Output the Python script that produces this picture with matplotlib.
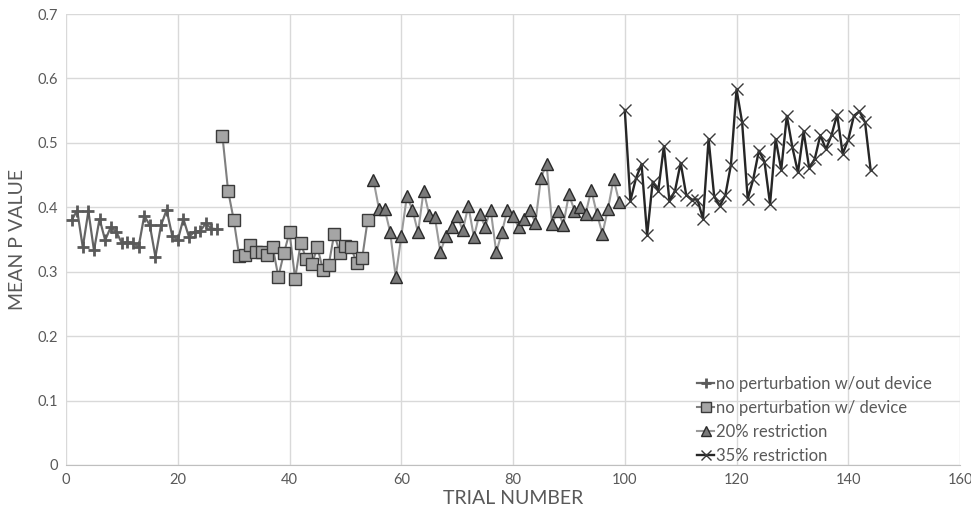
import matplotlib
matplotlib.use("Agg")
import matplotlib.pyplot as plt

plt.rcParams['font.family'] = ['Lato', 'DejaVu Sans']

# --- data ---
trials_plus = list(range(1, 28))
vals_plus = [0.380, 0.395, 0.338, 0.394, 0.333, 0.382, 0.349, 0.369, 0.362, 0.344,
             0.346, 0.344, 0.339, 0.387, 0.372, 0.323, 0.372, 0.396, 0.356, 0.349,
             0.382, 0.354, 0.362, 0.363, 0.375, 0.367, 0.366]

trials_sq = list(range(28, 55))
vals_sq = [0.510, 0.426, 0.381, 0.324, 0.326, 0.342, 0.330, 0.331, 0.326, 0.338,
           0.292, 0.329, 0.361, 0.289, 0.345, 0.319, 0.312, 0.338, 0.302, 0.310,
           0.359, 0.329, 0.340, 0.338, 0.314, 0.321, 0.381]

trials_tri = list(range(55, 100))
vals_tri = [0.443, 0.398, 0.398, 0.362, 0.292, 0.355, 0.417, 0.396, 0.361, 0.426,
            0.388, 0.385, 0.331, 0.355, 0.369, 0.387, 0.364, 0.402, 0.354, 0.390,
            0.370, 0.396, 0.330, 0.361, 0.396, 0.386, 0.369, 0.382, 0.396, 0.376,
            0.446, 0.467, 0.374, 0.395, 0.373, 0.420, 0.395, 0.400, 0.390, 0.427,
            0.390, 0.359, 0.398, 0.444, 0.408]

trials_x = list(range(100, 145))
vals_x = [0.551, 0.410, 0.445, 0.467, 0.357, 0.440, 0.426, 0.495, 0.409, 0.426,
          0.469, 0.419, 0.412, 0.412, 0.382, 0.506, 0.417, 0.402, 0.419, 0.466,
          0.583, 0.532, 0.413, 0.444, 0.488, 0.471, 0.405, 0.506, 0.458, 0.542,
          0.493, 0.454, 0.518, 0.461, 0.475, 0.512, 0.490, 0.512, 0.544, 0.483,
          0.505, 0.542, 0.549, 0.532, 0.458]

labels = ["no perturbation w/out device", "no perturbation w/ device",
          "20% restriction", "35% restriction"]

x_ticks = [0, 20, 40, 60, 80, 100, 120, 140, 160]
y_ticks = [0, 0.1, 0.2, 0.3, 0.4, 0.5, 0.6, 0.7]

fig = plt.figure(figsize=(9.71, 5.13), dpi=100)
ax = fig.add_axes([0.068, 0.0936, 0.9207, 0.8791])

ax.plot(trials_plus, vals_plus, color='#666666', lw=1.6, marker='+', ms=9, mew=2.0,
        mec='#5a5a5a', label=labels[0], zorder=3)
ax.plot(trials_sq, vals_sq, color='#7f7f7f', lw=1.5, marker='s', ms=8.5, mfc='#a5a5a5',
        mec='#3a3a3a', mew=1.0, label=labels[1], zorder=3)
ax.plot(trials_tri, vals_tri, color='#9a9a9a', lw=1.5, marker='^', ms=8.5, mfc='#7a7a7a',
        mec='#2a2a2a', mew=1.0, label=labels[2], zorder=3)
ax.plot(trials_x, vals_x, color='#262626', lw=1.7, marker='x', ms=9, mew=1.0,
        mec='#3a3a3a', label=labels[3], zorder=3)

ax.set_xlim(0, 160)
ax.set_ylim(0, 0.7)
ax.set_xticks(x_ticks)
ax.set_yticks(y_ticks)
ax.set_yticklabels(['0', '0.1', '0.2', '0.3', '0.4', '0.5', '0.6', '0.7'])
ax.grid(True, color='#d9d9d9', lw=1.0, zorder=0)
ax.set_axisbelow(True)
for s in ['top', 'right', 'left']:
    ax.spines[s].set_visible(False)
ax.spines['bottom'].set_color('#bfbfbf')
ax.tick_params(length=0, labelsize=10.5, colors='#595959', pad=6)

ax.set_xlabel('TRIAL NUMBER', fontsize=14, color='#595959', labelpad=2)
ax.set_ylabel('MEAN P VALUE', fontsize=14, color='#595959', labelpad=8)

leg = ax.legend(loc='lower right', bbox_to_anchor=(0.985, -0.03), frameon=False,
                fontsize=12, handlelength=1.0, handletextpad=0.1, labelspacing=0.47,
                labelcolor='#595959', markerscale=0.8)

fig.savefig('out.png', dpi=100)
